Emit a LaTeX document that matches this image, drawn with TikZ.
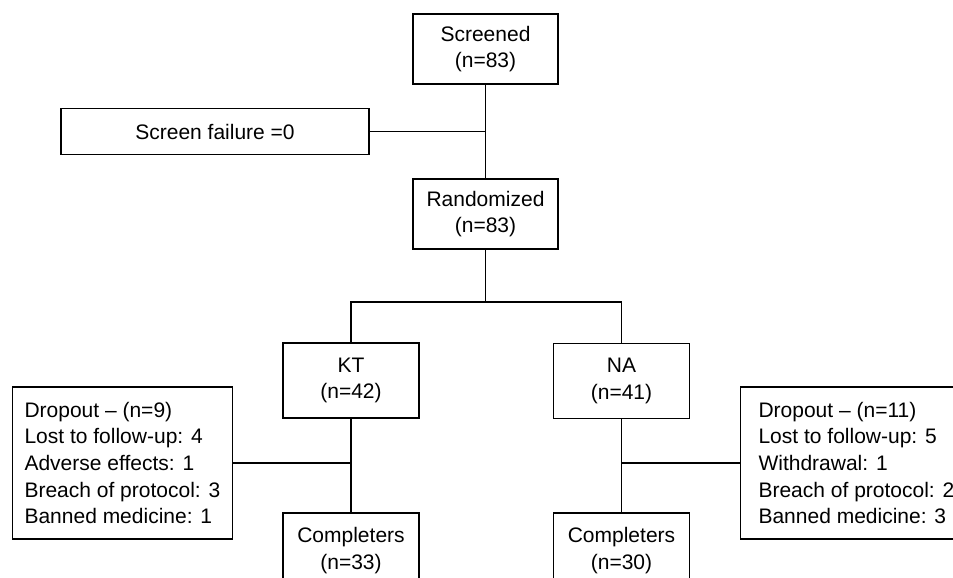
\documentclass[tikz,border=0pt]{standalone}
\usepackage{fontspec}
\setmainfont{Liberation Sans}
\begin{document}
\begin{tikzpicture}[x=1pt,y=-1pt,line width=1.1pt,
    box/.style={draw,align=center,inner sep=0pt,minimum width=145pt,minimum height=70pt,
      font=\fontsize{21}{26.7}\selectfont},
    armbox/.style={box,minimum width=136pt,minimum height=75pt},
    dropbox/.style={draw,align=left,inner xsep=12pt,minimum height=152pt,
      font=\fontsize{21}{26.7}\selectfont}]
      \useasboundingbox (0,0) rectangle (953,578);
      \clip (0,0) rectangle (953,578);
      \draw
        (485.5,49) node[box] (scr){Screened\\(n=83)}
        (215,131.5) node[box,minimum width=308pt,minimum height=46pt] (fail){Screen failure =0}
        (485.5,214) node[box] (rnd){Randomized\\(n=83)}
        (351,380.5) node[armbox] (kt){KT\\(n=42)}
        (621.5,381) node[armbox] (na){NA\\(n=41)}
        (351,550.5) node[armbox] (ckt){Completers\\(n=33)}
        (621.5,550.5) node[armbox] (cna){Completers\\(n=30)}
        (12,463) node[dropbox,anchor=west] (dkt){Dropout -- (n=9)\\Lost to follow-up: 4\\Adverse effects: 1\\Breach of protocol: 3\\Banned medicine: 1}
        (740,463) node[dropbox,anchor=west,inner xsep=18pt] (dna){Dropout -- (n=11)\\Lost to follow-up: 5\\Withdrawal: 1\\Breach of protocol: 2\\Banned medicine: 3};
      \coordinate (br) at (485.5,302);
      \begin{scope}[-]
        \draw (scr) to (rnd);
        \draw (fail.east) to (fail.east -| scr.south);
        \draw (rnd) to (br);
        \draw (kt.north) |- (br) -| (na.north);
        \draw (kt) to (ckt);
        \draw (na) to (cna);
        \draw (dkt.east) to (dkt.east -| kt.south);
        \draw (dna.west) to (dna.west -| na.south);
      \end{scope}
    \end{tikzpicture}
\end{document}
